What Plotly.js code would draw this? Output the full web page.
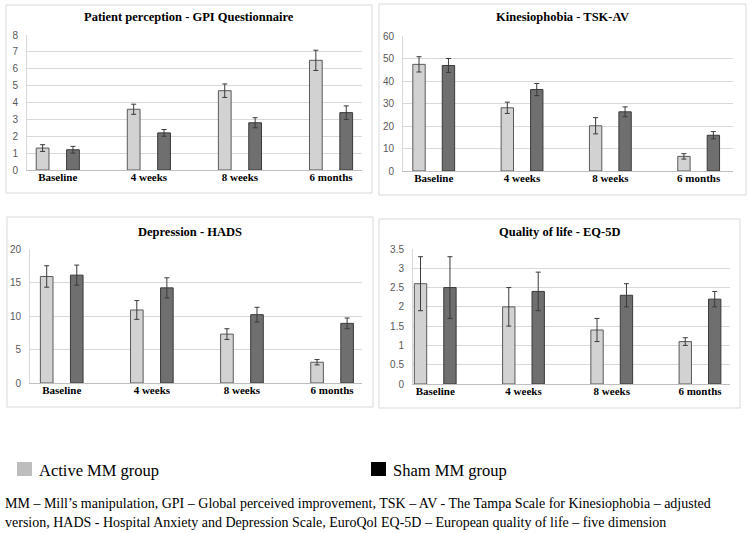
<!DOCTYPE html>
<html>
<head>
<meta charset="utf-8">
<script src="https://cdn.plot.ly/plotly-3.0.1.min.js"></script>
<style>
  html, body { margin: 0; padding: 0; background: #fff; }
  #plot { width: 750px; height: 533px; }
</style>
</head>
<body>
<div id="plot"></div>
<script>
var timepoints = ['Baseline', '4 weeks', '8 weeks', '6 months'];

// Patient perception - GPI
var gpiActive = [1.3, 3.6, 4.7, 6.5];
var gpiActiveErr = [0.2, 0.3, 0.4, 0.6];
var gpiSham = [1.2, 2.2, 2.8, 3.4];
var gpiShamErr = [0.2, 0.2, 0.3, 0.4];

// Kinesiophobia - TSK-AV
var tskActive = [47.4, 28.1, 20.1, 6.5];
var tskActiveErr = [3.4, 2.5, 3.6, 1.2];
var tskSham = [46.9, 36.2, 26.3, 15.9];
var tskShamErr = [3.1, 2.7, 2.2, 1.6];

// Depression - HADS
var hadsActive = [15.9, 10.9, 7.3, 3.1];
var hadsActiveErr = [1.6, 1.4, 0.8, 0.4];
var hadsSham = [16.1, 14.2, 10.2, 8.9];
var hadsShamErr = [1.5, 1.5, 1.1, 0.8];

// Quality of life - EQ-5D
var eqActive = [2.6, 2.0, 1.4, 1.1];
var eqActiveErr = [0.7, 0.5, 0.3, 0.1];
var eqSham = [2.5, 2.4, 2.3, 2.2];
var eqShamErr = [0.8, 0.5, 0.3, 0.2];

var panelTitles = ['Patient perception - GPI Questionnaire', 'Kinesiophobia - TSK-AV',
  'Depression - HADS', 'Quality of life - EQ-5D'];
var groupNames = ['Active MM group', 'Sham MM group'];
var footnote = ['MM \u2013 Mill\u2019s manipulation, GPI \u2013 Global perceived improvement, TSK \u2013 AV - The Tampa Scale for Kinesiophobia \u2013 adjusted',
  'version, HADS - Hospital Anxiety and Depression Scale, EuroQol EQ-5D \u2013 European quality of life \u2013 five dimension'];

var W = 750, H = 533;
var serif = 'Liberation Serif, Times New Roman, serif';
var sans = 'Liberation Sans, Arial, sans-serif';

var barTrace = function(vals, errs, n, dark) {
  var suffix = n === 1 ? '' : String(n);
  return {
    type: 'bar',
    x: timepoints,
    y: vals,
    xaxis: 'x' + suffix,
    yaxis: 'y' + suffix,
    showlegend: false,
    marker: {
      color: dark ? '#6f6f6f' : '#d2d2d2',
      line: {color: dark ? '#3a3a3a' : '#5a5a5a', width: 1}
    },
    error_y: {type: 'data', array: errs, visible: true, color: '#3a3a3a', thickness: 1, width: 2.5}
  };
};

var data = [
  barTrace(gpiActive, gpiActiveErr, 1, false), barTrace(gpiSham, gpiShamErr, 1, true),
  barTrace(tskActive, tskActiveErr, 2, false), barTrace(tskSham, tskShamErr, 2, true),
  barTrace(hadsActive, hadsActiveErr, 3, false), barTrace(hadsSham, hadsShamErr, 3, true),
  barTrace(eqActive, eqActiveErr, 4, false), barTrace(eqSham, eqShamErr, 4, true)
];

// pixel boxes of the four plot areas [left, right, top, bottom]
var areas = [[27, 362, 35, 170], [403, 733, 36, 171], [30, 362, 249, 383], [413, 730, 249, 384]];
var xRanges = [[-0.338, 3.34], [-0.348, 3.389], [-0.352, 3.332], [-0.252, 3.34]];
var yRanges = [[0, 8], [0, 60], [0, 20], [0, 3.5]];
var yDticks = [1, 10, 5, 0.5];
var frames = [[6, 372, 5, 193], [379, 746, 4, 195], [7, 373, 217, 407], [379, 740, 219, 408]];
var titleY = [17, 17, 232, 232];

var layout = {
  width: W,
  height: H,
  margin: {l: 0, r: 0, t: 0, b: 0},
  paper_bgcolor: '#fff',
  plot_bgcolor: '#fff',
  barmode: 'group',
  bargap: 0.333,
  bargroupgap: 0.58,
  showlegend: false,
  shapes: [],
  annotations: []
};

areas.forEach(function(a, i) {
  var suffix = i === 0 ? '' : String(i + 1);
  layout['xaxis' + suffix] = {
    domain: [a[0] / W, a[1] / W],
    anchor: 'y' + suffix,
    type: 'category',
    range: xRanges[i],
    showgrid: false,
    showline: true,
    linecolor: '#bfbfbf',
    linewidth: 1,
    ticks: '',
    ticklabelstandoff: -3,
    tickfont: {family: serif, size: 11, color: '#000', weight: 'bold'},
    fixedrange: true
  };
  layout['yaxis' + suffix] = {
    domain: [1 - a[3] / H, 1 - a[2] / H],
    anchor: 'x' + suffix,
    range: yRanges[i],
    dtick: yDticks[i],
    showgrid: true,
    gridcolor: '#d9d9d9',
    gridwidth: 1,
    zeroline: false,
    showline: true,
    linecolor: '#d9d9d9',
    ticks: '',
    ticklabelstandoff: 6,
    tickfont: {family: sans, size: 10, color: '#595959'},
    fixedrange: true
  };
  var f = frames[i];
  layout.shapes.push({
    type: 'rect', xref: 'paper', yref: 'paper',
    x0: f[0] / W, x1: f[1] / W, y0: 1 - f[3] / H, y1: 1 - f[2] / H,
    line: {color: '#d9d9d9', width: 1}, fillcolor: 'rgba(0,0,0,0)', layer: 'below'
  });
  layout.annotations.push({
    xref: 'paper', yref: 'paper',
    x: (f[0] + f[1]) / 2 / W, y: 1 - titleY[i] / H,
    xanchor: 'center', yanchor: 'middle', showarrow: false,
    text: panelTitles[i],
    font: {family: serif, size: 12.5, color: '#000', weight: 'bold'}
  });
});

// legend drawn below the panels
var legendSwatches = [['#bdbdbd', 17, 32], ['#000000', 371, 386]];
legendSwatches.forEach(function(s, i) {
  layout.shapes.push({
    type: 'rect', xref: 'paper', yref: 'paper',
    x0: s[1] / W, x1: s[2] / W, y0: 1 - 476 / H, y1: 1 - 462 / H,
    line: {width: 0}, fillcolor: s[0]
  });
  layout.annotations.push({
    xref: 'paper', yref: 'paper',
    x: (s[2] + 5) / W, y: 1 - 470 / H,
    xanchor: 'left', yanchor: 'middle', showarrow: false,
    text: groupNames[i],
    font: {family: serif, size: 16.5, color: '#000'}
  });
});

footnote.forEach(function(line, i) {
  layout.annotations.push({
    xref: 'paper', yref: 'paper',
    x: 3 / W, y: 1 - (503 + 19 * i) / H,
    xanchor: 'left', yanchor: 'middle', showarrow: false,
    text: line,
    font: {family: serif, size: 14, color: '#000'}
  });
});

Plotly.newPlot('plot', data, layout, {staticPlot: true});
</script>
</body>
</html>
